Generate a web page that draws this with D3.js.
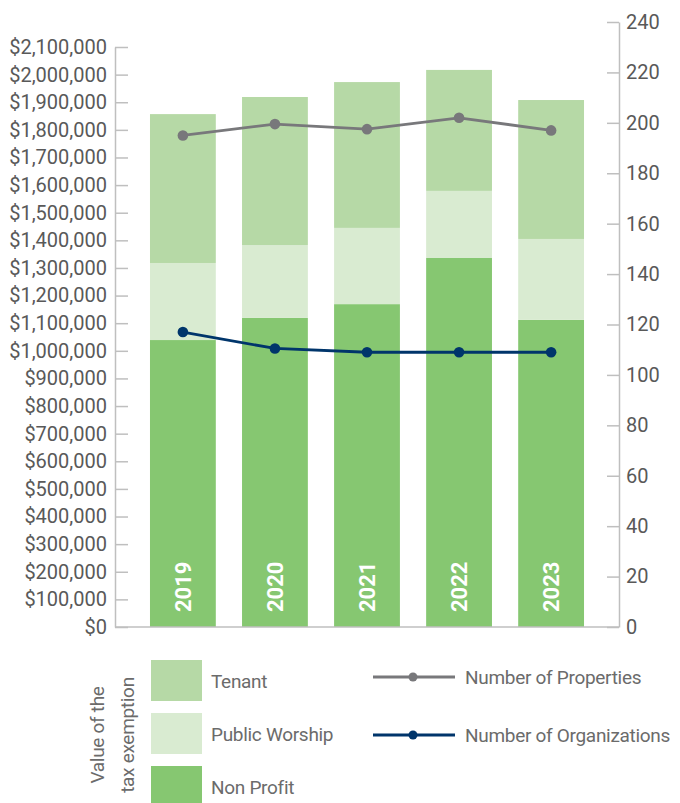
<!DOCTYPE html>
<html>
<head>
<meta charset="utf-8">
<script src="https://cdn.jsdelivr.net/npm/d3@7"></script>
<style>
  body { margin: 0; background: #fff; }
  svg { display: block; font-family: Roboto, "Liberation Sans", sans-serif; }
</style>
</head>
<body>
<div id="wrapper"></div>
<script>
// values
const years = ["2019", "2020", "2021", "2022", "2023"];
const nonProfit = [1039000, 1119000, 1169000, 1336000, 1112000];
const publicWorship = [279000, 264000, 276000, 243000, 293000];
const tenant = [539000, 536000, 528000, 438000, 503000];
const numProperties = [195, 199.5, 197.5, 202, 197];
const numOrganizations = [117, 110.5, 109, 109, 109];
const leftTicks = d3.range(0, 2100001, 100000);
const rightTicks = d3.range(0, 241, 20);

const colors = { tenant: "#b6d9a6", worship: "#d9ebd1", nonprofit: "#86c771" };
const propColor = "#78787b";
const orgColor = "#00356b";

const dimension = {
    width: 680,
    height: 803,
    margin: { top: 22, left: 115, bottom: 176, right: 61 }
};
const plotBottom = dimension.height - dimension.margin.bottom; // 627
const plotRight = dimension.width - dimension.margin.right;     // 619

const svg = d3.select("#wrapper").append("svg")
    .attr("width", dimension.width)
    .attr("height", dimension.height);

const xScaler = d3.scaleBand()
    .domain(years)
    .range([dimension.margin.left, plotRight])
    .paddingInner(0.285)
    .paddingOuter(0.38);

const yLeft = d3.scaleLinear()
    .domain([0, 2100000])
    .range([plotBottom, 47]);

const yRight = d3.scaleLinear()
    .domain([0, 240])
    .range([plotBottom, dimension.margin.top]);

// stacked bars
const rows = years.map((y, i) => ({
    year: y, nonprofit: nonProfit[i], worship: publicWorship[i], tenant: tenant[i]
}));
const stack = d3.stack().keys(["nonprofit", "worship", "tenant"]);
const series = stack(rows);

svg.append("g").selectAll("g")
    .data(series)
    .join("g")
    .attr("fill", d => colors[d.key])
    .selectAll("rect")
    .data(d => d)
    .join("rect")
    .attr("x", d => xScaler(d.data.year))
    .attr("width", xScaler.bandwidth())
    .attr("y", d => yLeft(d[1]))
    .attr("height", d => yLeft(d[0]) - yLeft(d[1]));

// year labels inside bars
svg.append("g").selectAll("text")
    .data(years)
    .join("text")
    .attr("transform", d => `translate(${xScaler(d) + xScaler.bandwidth() / 2 + 8},612) rotate(-90)`)
    .attr("fill", "#fff")
    .style("font-size", "22px")
    .style("font-weight", "bold")
    .text(d => d);

// axes
const axisColor = "#bfbfbf";
const labelColor = "#595959";

const leftAxis = svg.append("g")
    .attr("transform", `translate(${dimension.margin.left},0)`)
    .call(d3.axisLeft(yLeft)
        .tickValues(leftTicks)
        .tickSizeInner(-13)
        .tickSizeOuter(0)
        .tickPadding(8)
        .tickFormat(d => "$" + d3.format(",")(d)));

const rightAxis = svg.append("g")
    .attr("transform", `translate(${plotRight},0)`)
    .call(d3.axisRight(yRight)
        .tickValues(rightTicks)
        .tickSizeInner(-12)
        .tickSizeOuter(0)
        .tickPadding(7));

[leftAxis, rightAxis].forEach(a => {
    a.select(".domain").attr("stroke", axisColor).attr("stroke-width", 1.5);
    a.selectAll(".tick line").attr("stroke", axisColor).attr("stroke-width", 1.5);
    a.selectAll(".tick text")
        .attr("fill", labelColor)
        .style("font-size", "20px")
        .style("font-family", "Roboto, sans-serif");
});

svg.append("line")
    .attr("x1", dimension.margin.left)
    .attr("x2", plotRight)
    .attr("y1", plotBottom)
    .attr("y2", plotBottom)
    .attr("stroke", axisColor)
    .attr("stroke-width", 1.5);

// lines on the right axis
const lineGenerator = d3.line()
    .x((d, i) => xScaler(years[i]) + xScaler.bandwidth() / 2)
    .y(d => yRight(d));

[[numProperties, propColor], [numOrganizations, orgColor]].forEach(([vals, col]) => {
    svg.append("path")
        .attr("d", lineGenerator(vals))
        .attr("fill", "none")
        .attr("stroke", col)
        .attr("stroke-width", 2.8);
    svg.append("g").selectAll("circle")
        .data(vals)
        .join("circle")
        .attr("cx", (d, i) => xScaler(years[i]) + xScaler.bandwidth() / 2)
        .attr("cy", d => yRight(d))
        .attr("r", 5.3)
        .attr("fill", col);
});

// legend
const legendText = "#6b6b6b";
const legend = svg.append("g")
    .style("font-size", "19px")
    .style("letter-spacing", "-0.3px");

const swatches = [["Tenant", colors.tenant], ["Public Worship", colors.worship], ["Non Profit", colors.nonprofit]];
swatches.forEach(([name, col], i) => {
    const y0 = 660 + i * 53;
    legend.append("rect")
        .attr("x", 151).attr("y", y0)
        .attr("width", 51).attr("height", 41)
        .attr("fill", col);
    legend.append("text")
        .attr("x", 211).attr("y", y0 + 21)
        .attr("dy", "0.35em")
        .attr("fill", legendText)
        .text(name);
});

const lineKeys = [["Number of Properties", propColor, 677], ["Number of Organizations", orgColor, 735]];
lineKeys.forEach(([name, col, y]) => {
    legend.append("line")
        .attr("x1", 373).attr("x2", 455)
        .attr("y1", y).attr("y2", y)
        .attr("stroke", col).attr("stroke-width", 2.8);
    legend.append("circle")
        .attr("cx", 413).attr("cy", y).attr("r", 4.5)
        .attr("fill", col);
    legend.append("text")
        .attr("x", 465).attr("y", y)
        .attr("dy", "0.35em")
        .attr("fill", legendText)
        .text(name);
});

const vlabel = legend.append("text")
    .attr("transform", "translate(0,735) rotate(-90)")
    .attr("text-anchor", "middle")
    .attr("fill", legendText);
vlabel.append("tspan").attr("x", 0).attr("y", 104).text("Value of the");
vlabel.append("tspan").attr("x", 0).attr("y", 134).text("tax exemption");
</script>
</body>
</html>
